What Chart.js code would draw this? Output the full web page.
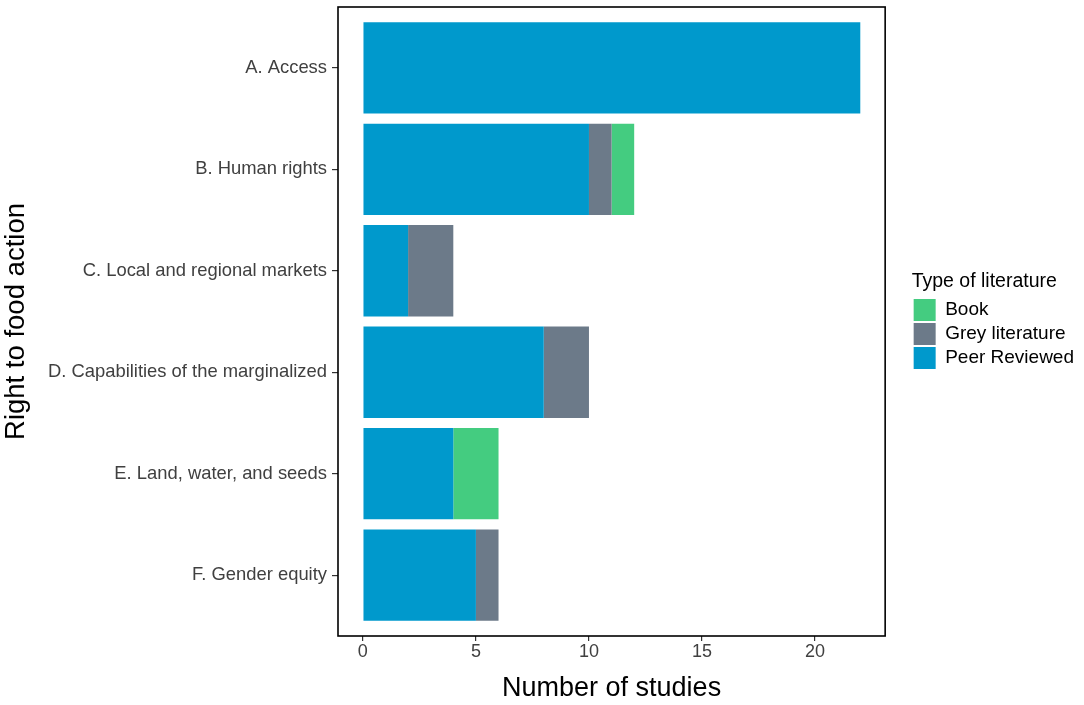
<!DOCTYPE html>
<html>
<head>
<meta charset="utf-8">
<script src="https://cdn.jsdelivr.net/npm/chart.js@4.4.1/dist/chart.umd.min.js"></script>
<style>
  html, body { margin: 0; padding: 0; background: #fff; }
  #grafico { display: block; }
</style>
</head>
<body>
<canvas id="grafico" width="1084" height="705"></canvas>
<script>
  // Dados
  const categories = [
    'A. Access',
    'B. Human rights',
    'C. Local and regional markets',
    'D. Capabilities of the marginalized',
    'E. Land, water, and seeds',
    'F. Gender equity'
  ];
  const peerReviewed = [22, 10, 2, 8, 4, 5];
  const greyLiterature = [0, 1, 2, 2, 0, 1];
  const book = [0, 1, 0, 0, 2, 0];
  const xTicks = [0, 5, 10, 15, 20];

  const fonte = '"Liberation Sans", Arial, sans-serif';

  function serie(valores) {
    return valores.map((v, i) => ({ x: v, y: i }));
  }

  // Moldura em volta da área do gráfico
  const moldura = {
    id: 'moldura',
    afterDraw(chart) {
      const { ctx, chartArea } = chart;
      ctx.save();
      ctx.strokeStyle = '#000';
      ctx.lineWidth = 1.6;
      ctx.strokeRect(chartArea.left, chartArea.top, chartArea.right - chartArea.left, chartArea.bottom - chartArea.top);
      ctx.restore();
    }
  };

  const ctx = document.getElementById('grafico').getContext('2d');
  new Chart(ctx, {
    type: 'bar',
    data: {
      datasets: [
        { label: 'Peer Reviewed', data: serie(peerReviewed), backgroundColor: '#0099CC', yAxisID: 'y', xAxisID: 'x' },
        { label: 'Grey literature', data: serie(greyLiterature), backgroundColor: '#6C7A89', yAxisID: 'y', xAxisID: 'x' },
        { label: 'Book', data: serie(book), backgroundColor: '#44CC80', yAxisID: 'y', xAxisID: 'x' }
      ]
    },
    options: {
      indexAxis: 'y',
      responsive: false,
      animation: false,
      devicePixelRatio: 1,
      layout: { padding: { top: 7, left: 0, right: 0, bottom: 0 } },
      datasets: { bar: { barPercentage: 0.9, categoryPercentage: 1, borderWidth: 0 } },
      scales: {
        y: {
          type: 'linear',
          position: 'left',
          reverse: true,
          stacked: true,
          offset: false,
          min: -0.6,
          max: 5.6,
          afterBuildTicks: s => { s.ticks = categories.map((c, i) => ({ value: i })); },
          afterFit: s => { s.width = 338; s.paddingTop = 0; s.paddingBottom = 0; },
          ticks: {
            callback: v => categories[v],
            color: '#404040',
            font: { family: fonte, size: 18.4 },
            padding: 5
          },
          grid: { offset: false, drawOnChartArea: false, drawTicks: true, tickLength: 6, color: '#333', lineWidth: 1.2 },
          border: { display: false },
          title: {
            display: true,
            text: 'Right to food action',
            color: '#000',
            font: { family: fonte, size: 27.5 },
            padding: { top: 0, bottom: 0 }
          }
        },
        x: {
          type: 'linear',
          position: 'bottom',
          stacked: true,
          min: -1.1,
          max: 23.1,
          afterBuildTicks: s => { s.ticks = xTicks.map(v => ({ value: v })); },
          afterFit: s => { s.height = 69; s.paddingLeft = 0; s.paddingRight = 0; },
          ticks: {
            color: '#404040',
            font: { family: fonte, size: 18 },
            padding: 0
          },
          grid: { offset: false, drawOnChartArea: false, drawTicks: true, tickLength: 5, color: '#333', lineWidth: 1.2 },
          border: { display: false },
          title: {
            display: true,
            text: 'Number of studies',
            color: '#000',
            font: { family: fonte, size: 27 },
            padding: { top: 0, bottom: 0 }
          }
        },
        yR: {
          type: 'linear',
          position: 'right',
          display: true,
          grid: { display: false },
          border: { display: false },
          ticks: { display: false },
          afterFit: s => { s.width = 26.5; s.paddingTop = 0; s.paddingBottom = 0; }
        }
      },
      plugins: {
        tooltip: { enabled: false },
        legend: {
          position: 'right',
          align: 'center',
          fullSize: false,
          reverse: true,
          title: {
            display: true,
            text: 'Type of literature',
            position: 'start',
            color: '#000',
            font: { family: fonte, size: 19.5 },
            padding: { top: 0, bottom: 1.6 }
          },
          labels: {
            boxWidth: 22,
            boxHeight: 22,
            padding: 2,
            color: '#000',
            font: { family: fonte, size: 19 }
          }
        }
      }
    },
    plugins: [moldura]
  });
</script>
</body>
</html>
